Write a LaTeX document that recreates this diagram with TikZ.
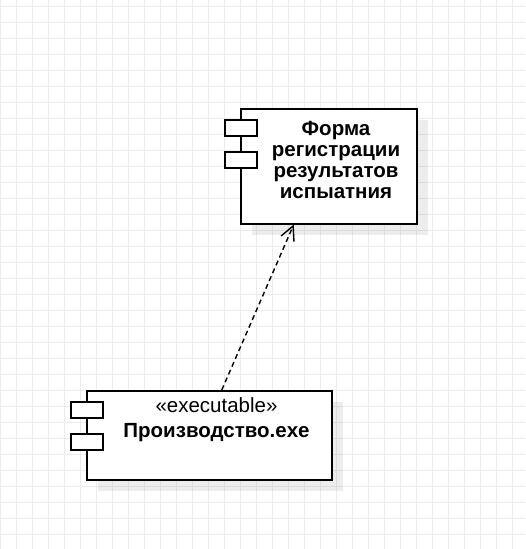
\documentclass[tikz,border=0pt]{standalone}
\usepackage{fontspec}
\setmainfont{Liberation Sans}
\usetikzlibrary{arrows.meta,shadows}

\tikzset{
  gridline/.style={line width=1pt, black!8},
  compbox/.style={draw, line width=1.5pt, fill=white, anchor=north west,
    drop shadow={shadow xshift=11pt, shadow yshift=-11pt, fill=black, opacity=.07}},
  port/.style={draw, line width=1.5pt, fill=white, anchor=north west,
    minimum width=32, minimum height=16, inner sep=0},
  dep/.style={line width=1.4pt, dash pattern=on 5pt off 3.5pt,
    -{Straight Barb[length=14pt, width=14pt]}}
}

\begin{document}
\begin{tikzpicture}[x=1pt, y=-1pt]
  \useasboundingbox (0,0) rectangle (525,549);
  % background grid
  \foreach \gx in {0,16,...,524}
    \draw[gridline] (\gx,0) -- (\gx,549);
  \foreach \gy in {6,22,...,548}
    \draw[gridline] (0,\gy) -- (525,\gy);
  % component: form
  \node[compbox, minimum width=176, minimum height=115] (form) at (240,108) {};
  \node[port] (formport1) at (224,119) {};
  \node[port] (formport2) at (224,151) {};
  \node[font=\fontsize{20.5}{20.7}\selectfont\bfseries, align=center, inner sep=0]
    (formtext) at (336,160) {Форма\\регистрации\\результатов\\испыатния};
  % component: executable
  \node[compbox, minimum width=245, minimum height=89] (prod) at (86,390) {};
  \node[port] (prodport1) at (70,401) {};
  \node[port] (prodport2) at (70,433) {};
  \node[font=\fontsize{20.5}{20.7}\selectfont, anchor=base, inner sep=0]
    (prodstereo) at (216.5,412) {«executable»};
  \node[font=\fontsize{20.5}{20.7}\selectfont\bfseries, anchor=base, inner sep=0]
    (prodname) at (216.5,437) {Производство.exe};
  % dependency
  \draw[dep] ([xshift=12.5]prod.north) -- ([xshift=-35]form.south);
\end{tikzpicture}
\end{document}
